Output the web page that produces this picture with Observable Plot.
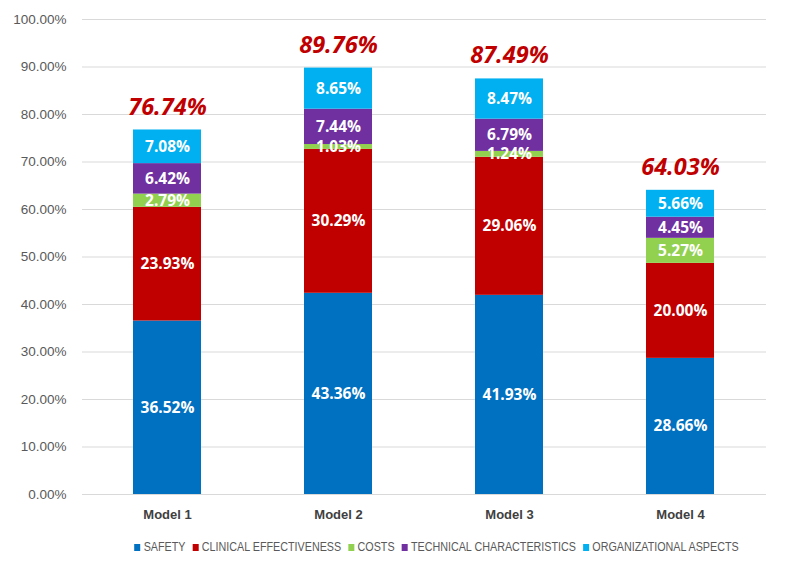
<!DOCTYPE html>
<html>
<head>
<meta charset="utf-8">
<script src="https://cdn.jsdelivr.net/npm/d3@7"></script>
<script src="https://cdn.jsdelivr.net/npm/@observablehq/plot@0.6"></script>
<style>
  body { margin: 0; background: #fff; font-family: "Liberation Sans", sans-serif; }
  #legendwrap { width: 787px; display: flex; justify-content: center; margin-top: 10px; }
  #legend { display: flex; gap: 8px; font-size: 12.5px; color: #595959; transform: scaleX(0.86); transform-origin: center; margin-left: 85px; white-space: nowrap; }
  #legend span.item { display: flex; align-items: center; gap: 4px; }
  #legend span.sw { width: 7px; height: 7px; display: inline-block; }
</style>
</head>
<body>
<div id="chart"></div>
<div id="legendwrap"><div id="legend"></div></div>
<script>
const models = ["Model 1", "Model 2", "Model 3", "Model 4"];
const series = ["SAFETY", "CLINICAL EFFECTIVENESS", "COSTS", "TECHNICAL CHARACTERISTICS", "ORGANIZATIONAL ASPECTS"];
const colors = ["#0070C0", "#C00000", "#92D050", "#7030A0", "#00B0F0"];
// bar heights as drawn (Model 2 safety bar is drawn at ~42.36 though labelled 43.36%)
const safety = [36.52, 42.36, 41.93, 28.66];
const safetyLabels = ["36.52%", "43.36%", "41.93%", "28.66%"];
const clinical = [23.93, 30.29, 29.06, 20.00];
const costs = [2.79, 1.03, 1.24, 5.27];
const technical = [6.42, 7.44, 6.79, 4.45];
const organizational = [7.08, 8.65, 8.47, 5.66];
const totals = [76.74, 89.76, 87.49, 64.03];
const yTicks = [0, 10, 20, 30, 40, 50, 60, 70, 80, 90, 100];

const seriesValues = [safety, clinical, costs, technical, organizational];
const data = [];
models.forEach((m, i) => {
  series.forEach((s, j) => data.push({
    model: m, series: s, value: seriesValues[j][i],
    label: j === 0 ? safetyLabels[i] : seriesValues[j][i].toFixed(2) + "%"
  }));
});
const totalData = models.map((m, i) => ({model: m, total: totals[i]}));

const chart = Plot.plot({
  width: 787,
  height: 530,
  marginLeft: 82,
  marginRight: 21,
  marginTop: 19,
  marginBottom: 36,
  style: {fontFamily: "'Liberation Sans', sans-serif", background: "#fff"},
  x: {domain: models, paddingInner: 0.6, paddingOuter: 0.3, label: null},
  y: {domain: [0, 100], label: null},
  color: {domain: series, range: colors},
  marks: [
    Plot.gridY(yTicks, {stroke: "#d9d9d9", strokeOpacity: 1, strokeWidth: 1}),
    Plot.barY(data, {x: "model", y: "value", fill: "series", order: series}),
    Plot.text(data, Plot.stackY({x: "model", y: "value", z: "series", order: series, text: "label", fill: "white", fontWeight: "bold", fontSize: 15.5, fontFamily: "'Open Sans', sans-serif"})),
    Plot.text(totalData, {x: "model", y: "total", text: d => d.total.toFixed(2) + "%", dy: -23, fill: "#C00000", fontWeight: "bold", fontStyle: "italic", fontSize: 23.5, fontFamily: "'Open Sans', sans-serif"}),
    Plot.axisY({ticks: yTicks, tickSize: 0, tickPadding: 16, tickFormat: d => d.toFixed(2) + "%", fill: "#595959", fontSize: 13.5, label: null}),
    Plot.axisX({tickSize: 0, tickPadding: 15, fill: "#404040", fontSize: 13, fontWeight: "bold", label: null})
  ]
});
document.getElementById("chart").appendChild(chart);

const legend = document.getElementById("legend");
series.forEach((s, i) => {
  const item = document.createElement("span");
  item.className = "item";
  const sw = document.createElement("span");
  sw.className = "sw";
  sw.style.background = colors[i];
  item.appendChild(sw);
  item.appendChild(document.createTextNode(s));
  legend.appendChild(item);
});
</script>
</body>
</html>
